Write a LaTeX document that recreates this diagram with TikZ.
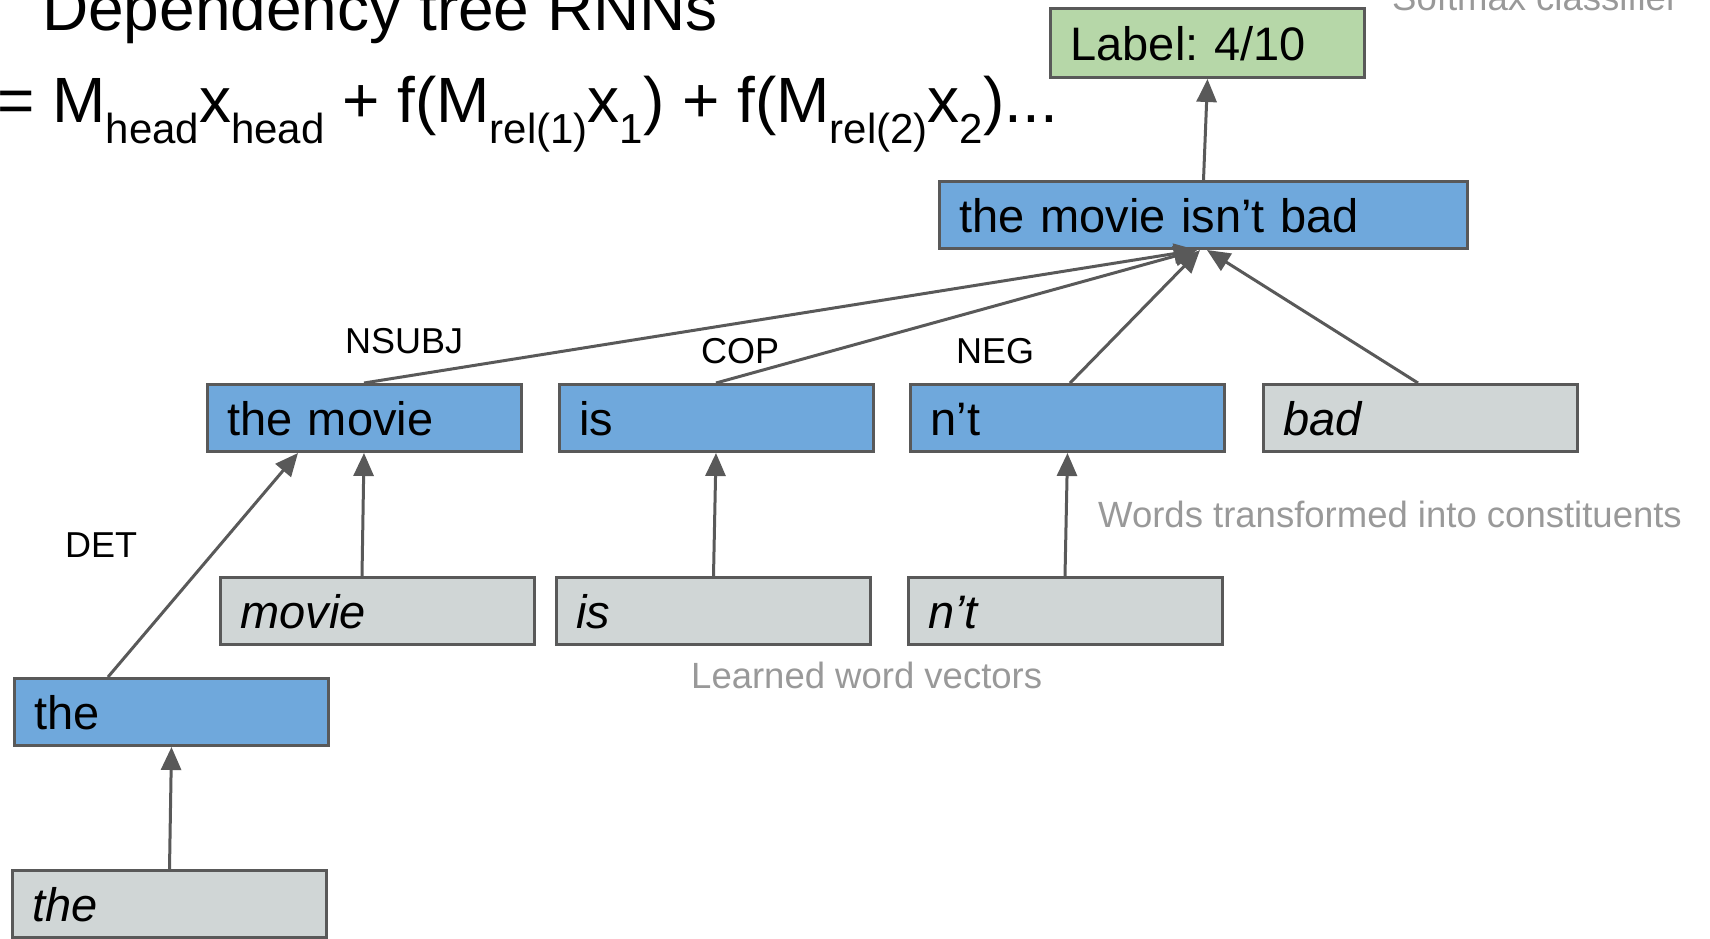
\documentclass[tikz,border=0pt]{standalone}
\usepackage{fontspec}
\setmainfont{Liberation Sans}
\usetikzlibrary{arrows.meta}
\frenchspacing

\definecolor{nodeblue}{HTML}{6FA8DC}
\definecolor{wordgray}{HTML}{D0D6D6}
\definecolor{labelgreen}{HTML}{B6D7A8}
\definecolor{edgegray}{HTML}{595959}
\definecolor{notegray}{HTML}{999999}

% lowered, smaller index text for the composition formula
\newcommand{\lowsub}[1]{\raisebox{-21pt}{\fontsize{42}{42}\selectfont #1}}

\tikzset{
  vecbox/.style={draw=edgegray, line width=3pt, minimum height=67pt,
    inner xsep=20pt, inner ysep=0pt, text width=274pt, align=left,
    text height=40pt, text depth=6pt, font=\fontsize{47}{47}\selectfont},
  phrbox/.style={vecbox, fill=nodeblue},
  wordbox/.style={vecbox, fill=wordgray},
  labbox/.style={vecbox, fill=labelgreen, minimum height=69pt},
  arr/.style={draw=edgegray, line width=3pt,
    -{Triangle[length=23pt,width=20pt]}},
  rel/.style={anchor=base west, inner sep=0pt, font=\fontsize{36}{36}\selectfont},
  note/.style={anchor=base west, inner sep=0pt, text=notegray,
    font=\fontsize{36.5}{36.5}\selectfont},
  heading/.style={anchor=base west, inner sep=0pt, font=\fontsize{64}{64}\selectfont}
}

\begin{document}
\begin{tikzpicture}[x=1pt,y=-1pt]
\useasboundingbox (0,0) rectangle (1710,938);
\clip (0,0) rectangle (1710,938);

% heading and composition formula
\node[heading] (title) at (42,30) {Dependency tree RNNs};
\node[heading] (formula) at (-3,122)
  {= M\lowsub{head}x\lowsub{head} + f(M\lowsub{rel(1)}x\lowsub{1}) + f(M\lowsub{rel(2)}x\lowsub{2})...};

% word vectors
\node[wordbox] (wthe)   at (169.5,904) {\itshape the};
\node[wordbox] (wmovie) at (377.5,611) {\itshape movie};
\node[wordbox] (wis)    at (713.5,611) {\itshape is};
\node[wordbox] (wnt)    at (1065,611)  {\itshape n’t};
\node[wordbox] (wbad)   at (1420,418)  {\itshape bad};

% constituents
\node[phrbox] (pthe)   at (171.5,712) {the};
\node[phrbox] (pmovie) at (364,418)   {the movie};
\node[phrbox] (pis)    at (716,418)   {is};
\node[phrbox] (pnt)    at (1067.5,418) {n’t};
\node[phrbox, text width=488pt] (root) at (1203.5,215) {the movie isn’t bad};

% classifier output
\node[labbox] (lab) at (1207.5,43) {Label: 4/10};

% connections
\draw[arr] (wthe.north) -- (pthe.south);
\draw[arr] ([xshift=-15.5pt]wmovie.north) -- (pmovie.south);
\draw[arr] ([xshift=-63.5pt]pthe.north) -- ([xshift=-66pt]pmovie.south);
\draw[arr] (wis.north) -- (pis.south);
\draw[arr] (wnt.north) -- (pnt.south);
\draw[arr] (pmovie.north) -- ([xshift=-6.5pt]root.south);
\draw[arr] (pis.north) -- ([xshift=-6.5pt]root.south);
\draw[arr] ([xshift=2.5pt]pnt.north) -- ([xshift=-3.5pt]root.south);
\draw[arr] ([xshift=-2pt]wbad.north) -- ([xshift=3.5pt]root.south);
\draw[arr] (root.north) -- (lab.south);

% relation labels
\node[rel] (lnsubj) at (345,353) {NSUBJ};
\node[rel] (ldet)   at (65,557)  {DET};
\node[rel] (lcop)   at (701,363) {COP};
\node[rel] (lneg)   at (956,363) {NEG};

% annotations
\node[note] (nsoft)  at (1392,10)  {Softmax classifier};
\node[note] (nwords) at (1098,527) {Words transformed into constituents};
\node[note] (nlearn) at (691,688)  {Learned word vectors};
\end{tikzpicture}
\end{document}
